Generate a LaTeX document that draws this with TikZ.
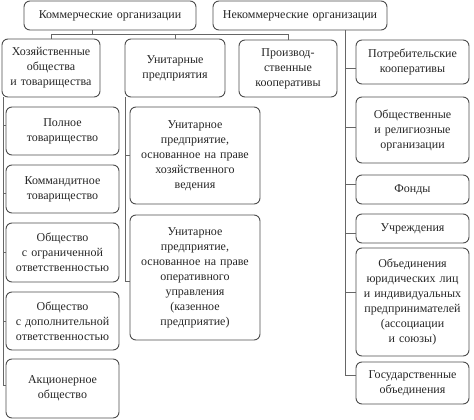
\documentclass[tikz,border=0pt]{standalone}
\usepackage{fontspec}
\setmainfont{Liberation Serif}
\begin{document}
\begin{tikzpicture}[x=1pt,y=-1pt,
  box/.style={draw=black!70, line width=0.9pt, rounded corners=6pt, align=center,
    inner sep=0pt, text=black!85, font=\fontsize{12}{15}\selectfont},
  conn/.style={draw=black!60, line width=0.9pt}]
\useasboundingbox (0,0) rectangle (474,420);
\newcommand\bx[6]{%
  \pgfmathsetmacro\bw{#4-#2}\pgfmathsetmacro\bh{#5-#3}%
  \pgfmathsetmacro\bcx{(#2+#4)/2}\pgfmathsetmacro\bcy{(#3+#5)/2}%
  \pgfmathsetmacro\tw{#4-#2-4}%
  \node[box, minimum width=\bw pt, minimum height=\bh pt, text width=\tw pt] (#1) at (\bcx,\bcy) {#6};}
\bx{com}{24}{1}{196}{30}{Коммерческие организации}
\bx{noncom}{213}{1}{387}{30}{Некоммерческие организации}
\bx{hoz}{2}{39}{100}{97}{Хозяйственные\\общества\\и товарищества}
\bx{unit}{125}{39}{225}{97}{Унитарные\\предприятия}
\bx{proizv}{239}{40}{337}{97}{Производ-\\ственные\\кооперативы}
\bx{potreb}{356}{40}{469}{84}{Потребительские\\кооперативы}
\bx{polnoe}{6}{107}{119}{155}{Полное\\товарищество}
\bx{komm}{6}{165}{119}{213}{Коммандитное\\товарищество}
\bx{ooo}{6}{223}{119}{282}{Общество\\с ограниченной\\ответственностью}
\bx{odo}{6}{292}{119}{350}{Общество\\с дополнительной\\ответственностью}
\bx{ao}{6}{359}{119}{418}{Акционерное\\общество}
\bx{uA}{130}{107}{260}{204}{Унитарное\\предприятие,\\основанное на праве\\хозяйственного\\ведения}
\bx{uB}{130}{215}{260}{340}{Унитарное\\предприятие,\\основанное на праве\\оперативного\\управления\\(казенное\\предприятие)}
\bx{obsh}{356}{97}{469}{163}{Общественные\\и религиозные\\организации}
\bx{fondy}{356}{175}{469}{204}{Фонды}
\bx{uchr}{356}{214}{469}{243}{Учреждения}
\bx{obed}{356}{248}{469}{356}{Объединения\\юридических лиц\\и индивидуальных\\предпринимателей\\(ассоциации\\и союзы)}
\bx{gos}{356}{362}{469}{404}{Государственные\\объединения}
% top connectors
\coordinate (cj) at (92,34);
\draw[conn] (cj |- com.south) -- (cj);
\draw[conn] (hoz.north) -- (hoz.north |- cj) -- (proizv.north |- cj) -- (proizv.north);
\draw[conn] (unit.north) -- (unit.north |- cj);
% noncommercial
\coordinate (nv) at (345,0);
\draw[conn] (nv |- noncom.south) -- ([yshift=8pt]nv |- gos.west) -- ([yshift=8pt]gos.west);
\foreach \n/\s in {potreb/-6,obsh/3,fondy/5,uchr/-5,obed/10}
  \draw[conn] ([yshift=\s pt]\n.west) -- ([yshift=\s pt]\n.west -| nv);
% left column
\coordinate (lv) at (3,0);
\draw[conn] (lv |- hoz.south) -- ([yshift=3pt]lv |- ao.west) -- ([yshift=3pt]ao.west);
\foreach \n/\s in {polnoe/6,komm/-4,ooo/0,odo/0}
  \draw[conn] ([yshift=\s pt]\n.west) -- ([yshift=\s pt]\n.west -| lv);
% middle column
\coordinate (mv) at (125,0);
\draw[conn] (mv |- unit.south) -- ([yshift=-4pt]mv |- uB.west) -- ([yshift=-4pt]uB.west);
\draw[conn] (uA.west) -- (uA.west -| mv);
\end{tikzpicture}
\end{document}
